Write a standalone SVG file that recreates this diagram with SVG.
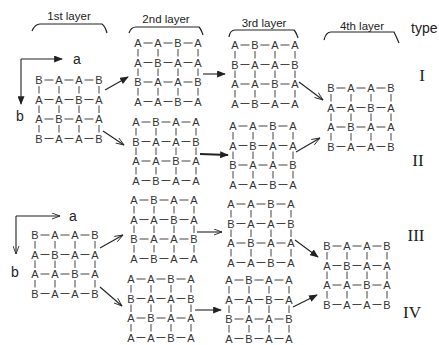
<svg xmlns="http://www.w3.org/2000/svg" xmlns:xlink="http://www.w3.org/1999/xlink" width="439" height="345" viewBox="0 0 439 345">
<style>
.bg{fill:#fff}
.lat{fill:none;stroke:#444;stroke-width:1}
.g text{font-family:"Liberation Sans","DejaVu Sans",sans-serif;font-size:11px;fill:#333;text-anchor:middle}
.lbl{font-family:"Liberation Sans","DejaVu Sans",sans-serif;font-size:11.5px;fill:#222;text-anchor:middle}
.ax{font-family:"Liberation Sans","DejaVu Sans",sans-serif;font-size:14px;fill:#222}
.rom{font-family:"Liberation Serif","DejaVu Serif",serif;font-size:17px;fill:#222;text-anchor:middle}
.br{fill:none;stroke:#222;stroke-width:1.2}
.ar{fill:none;stroke:#222;stroke-width:1.1}
.thick{stroke-width:2}
</style>
<defs>
<path id="lat" class="lat" d="M5.5 0h9M25.5 0h9M45.5 0h9M5.5 19.5h9M25.5 19.5h9M45.5 19.5h9M5.5 39h9M25.5 39h9M45.5 39h9M5.5 58.5h9M25.5 58.5h9M45.5 58.5h9M0 6v7.5M20 6v7.5M40 6v7.5M60 6v7.5M0 25.5v7.5M20 25.5v7.5M40 25.5v7.5M60 25.5v7.5M0 45v7.5M20 45v7.5M40 45v7.5M60 45v7.5"/>
<marker id="solid" viewBox="0 0 10 8" refX="9" refY="4" markerWidth="9" markerHeight="7" markerUnits="userSpaceOnUse" orient="auto">
<path d="M0 0L10 4L0 8Z" fill="#222"/>
</marker>
<marker id="open" viewBox="0 0 10 8" refX="9.5" refY="4" markerWidth="9" markerHeight="7" markerUnits="userSpaceOnUse" orient="auto">
<path d="M0 0.5L9.5 4L0 7.5" fill="none" stroke="#222" stroke-width="1"/>
</marker>
</defs>
<rect class="bg" width="439" height="345"/>

<g id="labels">
<text class="lbl" x="69" y="20">1st layer</text>
<path class="br" d="M32 31Q35 24 40 24H102Q105 26 107 33"/>
<text class="lbl" x="166" y="23">2nd layer</text>
<path class="br" d="M129 33Q131 27 136 27H199Q201 29 203 35"/>
<text class="lbl" x="264" y="27">3rd layer</text>
<path class="br" d="M229 37Q230 30 235 30H294Q296 32 298 38"/>
<text class="lbl" x="362" y="30">4th layer</text>
<path class="br" d="M324 40Q326 32 331 32H394Q396 36 399 43"/>
<text class="ax" x="411" y="33">type</text>
<text class="rom" x="422" y="81">I</text>
<text class="rom" x="418" y="166">II</text>
<text class="rom" x="416" y="241">III</text>
<text class="rom" x="412" y="318">IV</text>
</g>

<g id="axes-top">
<path class="ar" d="M21 59H62" marker-end="url(#solid)"/>
<path class="ar" d="M21 59V104" marker-end="url(#solid)"/>
<text class="ax" x="73" y="64">a</text>
<text class="ax" x="16" y="121">b</text>
</g>
<g id="axes-bottom">
<path class="ar" d="M16 216H60" marker-end="url(#open)"/>
<path class="ar" d="M16 216V254" marker-end="url(#open)"/>
<text class="ax" x="69" y="221">a</text>
<text class="ax" x="11" y="277">b</text>
</g>

<g id="connectors">
<path class="ar" d="M105 90L128 77" marker-end="url(#solid)"/>
<path class="ar" d="M103 131L124 145" marker-end="url(#open)"/>
<path class="ar" d="M203 74L225 74" marker-end="url(#solid)"/>
<path class="ar thick" d="M200 154L228 155" marker-end="url(#solid)"/>
<path class="ar" d="M299 82L323 100" marker-end="url(#open)"/>
<path class="ar" d="M296 152L320 138" marker-end="url(#open)"/>
<path class="ar" d="M100 248L123 235" marker-end="url(#open)"/>
<path class="ar" d="M100 287L122 306" marker-end="url(#open)"/>
<path class="ar" d="M197 232L222 232" marker-end="url(#open)"/>
<path class="ar" d="M195 310L221 310" marker-end="url(#solid)"/>
<path class="ar" d="M295 240L318 257" marker-end="url(#solid)"/>
<path class="ar" d="M293 307L317 295" marker-end="url(#solid)"/>
</g>

<g id="grid-1-top" class="g" transform="translate(39 80)">
<use xlink:href="#lat"/>
<text x="0 20 40 60" y="4">BAAB</text>
<text x="0 20 40 60" y="23.5">AABA</text>
<text x="0 20 40 60" y="43">ABAA</text>
<text x="0 20 40 60" y="62.5">BAAB</text>
</g>
<g id="grid-2-top-1" class="g" transform="translate(138 43)">
<use xlink:href="#lat"/>
<text x="0 20 40 60" y="4">AABA</text>
<text x="0 20 40 60" y="23.5">ABAA</text>
<text x="0 20 40 60" y="43">BAAB</text>
<text x="0 20 40 60" y="62.5">AABA</text>
</g>
<g id="grid-2-top-2" class="g" transform="translate(136 122)">
<use xlink:href="#lat"/>
<text x="0 20 40 60" y="4">ABAA</text>
<text x="0 20 40 60" y="23.5">BAAB</text>
<text x="0 20 40 60" y="43">AABA</text>
<text x="0 20 40 60" y="62.5">ABAA</text>
</g>
<g id="grid-3-top-1" class="g" transform="translate(235 45)">
<use xlink:href="#lat"/>
<text x="0 20 40 60" y="4">ABAA</text>
<text x="0 20 40 60" y="23.5">BAAB</text>
<text x="0 20 40 60" y="43">AABA</text>
<text x="0 20 40 60" y="62.5">ABAA</text>
</g>
<g id="grid-3-top-2" class="g" transform="translate(233 126)">
<use xlink:href="#lat"/>
<text x="0 20 40 60" y="4">AABA</text>
<text x="0 20 40 60" y="23.5">ABAA</text>
<text x="0 20 40 60" y="43">BAAB</text>
<text x="0 20 40 60" y="62.5">AABA</text>
</g>
<g id="grid-4-top" class="g" transform="translate(331 88)">
<use xlink:href="#lat"/>
<text x="0 20 40 60" y="4">BAAB</text>
<text x="0 20 40 60" y="23.5">AABA</text>
<text x="0 20 40 60" y="43">ABAA</text>
<text x="0 20 40 60" y="62.5">BAAB</text>
</g>
<g id="grid-1-bottom" class="g" transform="translate(35 235)">
<use xlink:href="#lat"/>
<text x="0 20 40 60" y="4">BAAB</text>
<text x="0 20 40 60" y="23.5">ABAA</text>
<text x="0 20 40 60" y="43">AABA</text>
<text x="0 20 40 60" y="62.5">BAAB</text>
</g>
<g id="grid-2-bottom-1" class="g" transform="translate(134 200)">
<use xlink:href="#lat"/>
<text x="0 20 40 60" y="4">ABAA</text>
<text x="0 20 40 60" y="23.5">AABA</text>
<text x="0 20 40 60" y="43">BAAB</text>
<text x="0 20 40 60" y="62.5">ABAA</text>
</g>
<g id="grid-2-bottom-2" class="g" transform="translate(131 279)">
<use xlink:href="#lat"/>
<text x="0 20 40 60" y="4">AABA</text>
<text x="0 20 40 60" y="23.5">BAAB</text>
<text x="0 20 40 60" y="43">ABAA</text>
<text x="0 20 40 60" y="62.5">AABA</text>
</g>
<g id="grid-3-bottom-1" class="g" transform="translate(231 204)">
<use xlink:href="#lat"/>
<text x="0 20 40 60" y="4">AABA</text>
<text x="0 20 40 60" y="23.5">BAAB</text>
<text x="0 20 40 60" y="43">ABAA</text>
<text x="0 20 40 60" y="62.5">AABA</text>
</g>
<g id="grid-3-bottom-2" class="g" transform="translate(229 280)">
<use xlink:href="#lat"/>
<text x="0 20 40 60" y="4">ABAA</text>
<text x="0 20 40 60" y="23.5">AABA</text>
<text x="0 20 40 60" y="43">BAAB</text>
<text x="0 20 40 60" y="62.5">ABAA</text>
</g>
<g id="grid-4-bottom" class="g" transform="translate(327 246)">
<use xlink:href="#lat"/>
<text x="0 20 40 60" y="4">BAAB</text>
<text x="0 20 40 60" y="23.5">ABAA</text>
<text x="0 20 40 60" y="43">AABA</text>
<text x="0 20 40 60" y="62.5">BAAB</text>
</g>
</svg>
